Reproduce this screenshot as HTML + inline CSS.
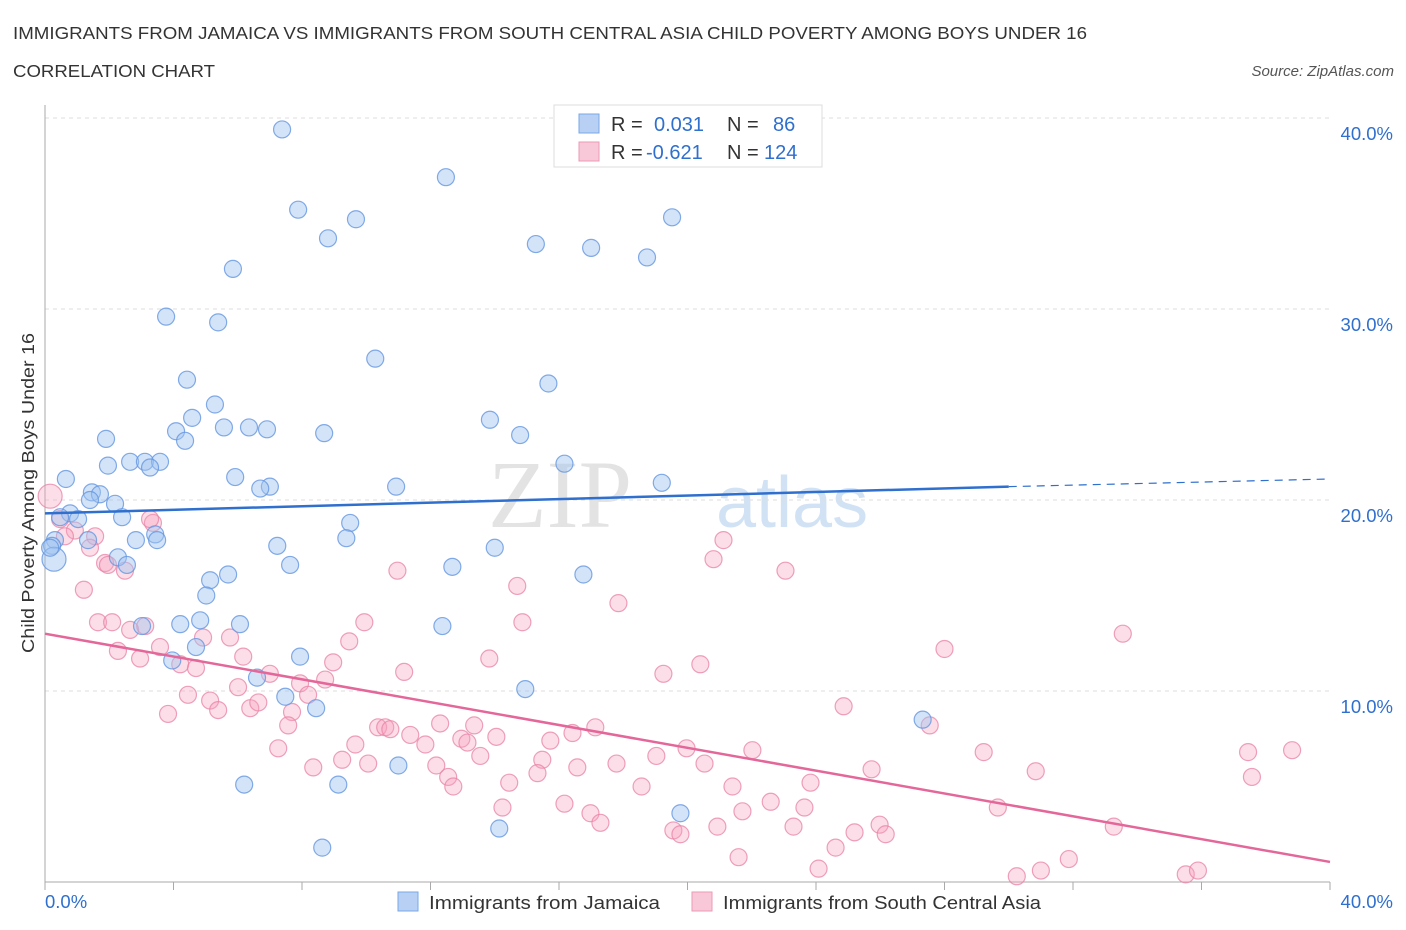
<!DOCTYPE html>
<html><head><meta charset="utf-8">
<style>
body{margin:0;background:#fff;font-family:"Liberation Sans",sans-serif;}
#c{position:absolute;left:0;top:0;width:1406px;height:930px;}
</style></head>
<body>
<svg id="c" width="1406" height="930" xmlns="http://www.w3.org/2000/svg">
<text x="13" y="39" font-size="17.5" fill="#333" textLength="1074" lengthAdjust="spacingAndGlyphs">IMMIGRANTS FROM JAMAICA VS IMMIGRANTS FROM SOUTH CENTRAL ASIA CHILD POVERTY AMONG BOYS UNDER 16</text>
<text x="13" y="77" font-size="17.5" fill="#333" textLength="202" lengthAdjust="spacingAndGlyphs">CORRELATION CHART</text>
<text x="1394" y="76" font-size="15" fill="#555" font-style="italic" text-anchor="end">Source: ZipAtlas.com</text>
<g>
<text x="632" y="527" font-size="96" fill="#ddd" text-anchor="end" font-family="Liberation Serif,serif" opacity="0.8">ZIP</text>
<text x="716" y="527" font-size="72" fill="#c8dbf3" opacity="0.8">atlas</text>
</g>
<g id="grid"></g>
<g id="axes"></g>
<g id="pts"></g>
<g id="trends"></g>
<text transform="translate(34,493) rotate(-90)" font-size="17.5" fill="#333" text-anchor="middle" textLength="320" lengthAdjust="spacingAndGlyphs">Child Poverty Among Boys Under 16</text>
<g>
<rect x="554" y="105" width="268" height="62" fill="#fff" stroke="#ddd"/>
<rect x="579" y="114" width="20" height="19" fill="#b7d0f3" stroke="#7aa8e8"/>
<rect x="579" y="142" width="20" height="19" fill="#f8c8d8" stroke="#eb9ab6"/>
<text x="611" y="131" font-size="20" fill="#333">R = </text><text x="654" y="131" font-size="20" fill="#2f6fce">0.031</text>
<text x="727" y="131" font-size="20" fill="#333">N = </text><text x="773" y="131" font-size="20" fill="#2f6fce">86</text>
<text x="611" y="159" font-size="20" fill="#333">R = </text><text x="646" y="159" font-size="20" fill="#2f6fce">-0.621</text>
<text x="727" y="159" font-size="20" fill="#333">N = </text><text x="764" y="159" font-size="20" fill="#2f6fce">124</text>
</g>
<g>
<rect x="398" y="892" width="20" height="19" fill="#b7d0f3" stroke="#7aa8e8"/>
<text x="429" y="909" font-size="18.5" fill="#333" textLength="231" lengthAdjust="spacingAndGlyphs">Immigrants from Jamaica</text>
<rect x="692" y="892" width="20" height="19" fill="#f8c8d8" stroke="#eb9ab6"/>
<text x="723" y="909" font-size="18.5" fill="#333" textLength="318" lengthAdjust="spacingAndGlyphs">Immigrants from South Central Asia</text>
</g>
</svg>
<script>
const yTicks=[10,20,30,40];
const yTickLabels=["10.0%","20.0%","30.0%","40.0%"];
const xTicks=[0,4,8,12,16,20,24,28,32,36,40];
const blueX=[7.38,12.48,7.88,9.68,8.81,15.28,17.0,19.52,18.74,5.85,3.77,5.39,10.28,15.67,4.42,5.29,4.58,4.08,4.36,5.57,6.35,6.91,1.90,8.69,13.85,14.79,1.96,2.65,3.11,3.58,3.27,0.65,5.92,16.17,7.0,6.7,10.93,19.2,1.46,1.71,1.40,2.18,0.78,1.03,2.40,0.47,9.50,3.43,3.49,2.83,0.31,0.22,7.23,9.38,14.0,1.34,2.27,2.55,7.63,12.68,16.76,5.70,5.14,5.02,6.07,4.21,4.83,3.02,12.37,4.70,3.96,7.94,6.60,7.48,8.44,14.95,27.32,6.20,9.13,11.0,19.78,14.14,8.63,0.28,0.16];
const blueY=[39.4,36.9,35.2,34.7,33.7,33.4,33.2,34.8,32.7,32.1,29.6,29.3,27.4,26.1,26.3,25.0,24.3,23.6,23.1,23.8,23.8,23.7,23.2,23.5,24.2,23.4,21.8,22.0,22.0,22.0,21.7,21.1,21.2,21.9,20.7,20.6,20.7,20.9,20.4,20.3,20.0,19.8,19.3,19.0,19.1,19.1,18.8,18.2,17.9,17.9,17.9,17.6,17.6,18.0,17.5,17.9,17.0,16.6,16.6,16.5,16.1,16.1,15.8,15.0,13.5,13.5,13.7,13.4,13.4,12.3,11.6,11.8,10.7,9.7,9.1,10.1,8.5,5.1,5.1,6.1,3.6,2.8,1.8,16.9,17.5];
const pinkX=[0.16,3.36,0.47,0.93,0.62,1.56,1.40,1.87,2.49,1.21,1.96,21.12,20.81,23.05,10.97,14.70,17.85,1.65,2.09,2.65,3.12,2.27,2.96,3.58,4.92,5.76,6.17,4.21,4.70,9.94,9.47,14.86,13.83,11.18,20.4,19.25,28.0,33.55,8.97,8.72,7.94,7.0,6.01,4.45,3.83,5.14,5.39,6.39,6.64,7.69,7.57,8.19,24.86,10.37,10.59,10.75,12.30,13.36,17.13,27.54,7.26,9.66,9.25,8.35,10.06,11.37,11.84,12.96,13.15,14.05,15.73,16.42,13.55,15.48,16.57,17.79,19.03,19.97,20.53,22.02,29.22,30.84,37.45,38.82,12.18,12.55,12.71,14.45,15.33,18.57,21.40,23.83,25.73,22.59,23.64,16.17,16.98,17.29,14.24,19.56,19.78,20.93,21.71,23.30,25.20,25.98,26.17,29.66,33.27,24.61,21.59,24.08,31.87,30.25,35.51,35.89,37.57,31.0,3.27];
const pinkY=[20.2,18.8,19.0,18.4,18.1,18.1,17.5,16.7,16.3,15.3,16.6,17.9,16.9,16.3,16.3,15.5,14.6,13.6,13.6,13.2,13.4,12.1,11.7,12.3,12.8,12.8,11.8,11.4,11.2,13.6,12.6,13.6,11.7,11.0,11.4,10.9,12.2,13.0,11.5,10.6,10.4,10.9,10.2,9.8,8.8,9.5,9.0,9.1,9.4,8.9,8.2,9.8,9.2,8.1,8.1,8.0,8.3,8.2,8.1,8.2,7.0,7.2,6.4,6.0,6.2,7.7,7.2,7.5,7.3,7.6,7.4,7.8,6.6,6.4,6.0,6.2,6.6,7.0,6.2,6.9,6.8,5.8,6.8,6.9,6.1,5.5,5.0,5.2,5.7,5.0,5.0,5.2,5.9,4.2,3.9,4.1,3.6,3.1,3.9,2.7,2.5,2.9,3.7,2.9,2.6,3.0,2.5,3.9,2.9,1.8,1.3,0.7,1.2,0.3,0.4,0.6,5.5,0.6,19.0];
const blueTrend=[19.3,20.7,21.1]; // at x=0, 30, 40
const pinkTrend=[13.0,1.05]; // at x=0, 40

const NS="http://www.w3.org/2000/svg";
const X0=45,X1=1330,Y0=882,Y1=118;
const sx=v=>X0+(v/40)*(X1-X0);
const sy=v=>Y0-(v/40)*(Y0-Y1);
function mk(tag,attrs,parent){const e=document.createElementNS(NS,tag);for(const k in attrs)e.setAttribute(k,attrs[k]);parent.appendChild(e);return e;}
const grid=document.getElementById('grid'),axes=document.getElementById('axes'),pts=document.getElementById('pts'),tr=document.getElementById('trends');
yTicks.forEach((t,i)=>{
  const l=mk('line',{x1:X0,x2:X1,y1:sy(t),y2:sy(t),stroke:'#ddd','stroke-dasharray':'4,4'},grid);
  
  
  const tx=mk('text',{x:1393,y:sy(t)+22,'font-size':18.5,fill:'#2f6fce','text-anchor':'end'},axes);
  tx.textContent=yTickLabels[i];
  
  
});
const ya=mk('line',{x1:X0,x2:X0,y1:105,y2:Y0,stroke:'#aaa'},axes);


const xa=mk('line',{x1:X0,x2:X1,y1:Y0,y2:Y0,stroke:'#aaa'},axes);


xTicks.forEach(t=>{
  const l=mk('line',{x1:sx(t),x2:sx(t),y1:Y0,y2:Y0+8,stroke:'#aaa'},axes);
  
  
});
const xl0=mk('text',{x:45,y:908,'font-size':18.5,fill:'#2f6fce'},axes);xl0.textContent='0.0%';


const xl1=mk('text',{x:1393,y:908,'font-size':18.5,fill:'#2f6fce','text-anchor':'end'},axes);xl1.textContent='40.0%';



function dots(xs,ys,fill,stroke,name,bigIdx){
  xs.forEach((x,i)=>{
    const r=(bigIdx.indexOf(i)>=0)?12:8.5;
    const c=mk('circle',{cx:sx(x),cy:sy(ys[i]),r:r,fill:fill,stroke:stroke,'stroke-width':1.2},pts);
    
    
  });
}
dots(pinkX,pinkY,'rgba(245,160,190,0.35)','rgba(232,130,165,0.75)','point-south-central-asia',[0]);
dots(blueX,blueY,'rgba(160,195,240,0.45)','rgba(100,150,225,0.8)','point-jamaica',[83]);

const b1=mk('line',{x1:sx(0),y1:sy(blueTrend[0]),x2:sx(30),y2:sy(blueTrend[1]),stroke:'#2f6fce','stroke-width':2.5},tr);


const b2=mk('line',{x1:sx(30),y1:sy(blueTrend[1]),x2:sx(40),y2:sy(blueTrend[2]),stroke:'#2f6fce','stroke-width':1.2,'stroke-dasharray':'8,6'},tr);


const p1=mk('line',{x1:sx(0),y1:sy(pinkTrend[0]),x2:sx(40),y2:sy(pinkTrend[1]),stroke:'#e4679a','stroke-width':2.5},tr);


</script>
</body></html>
